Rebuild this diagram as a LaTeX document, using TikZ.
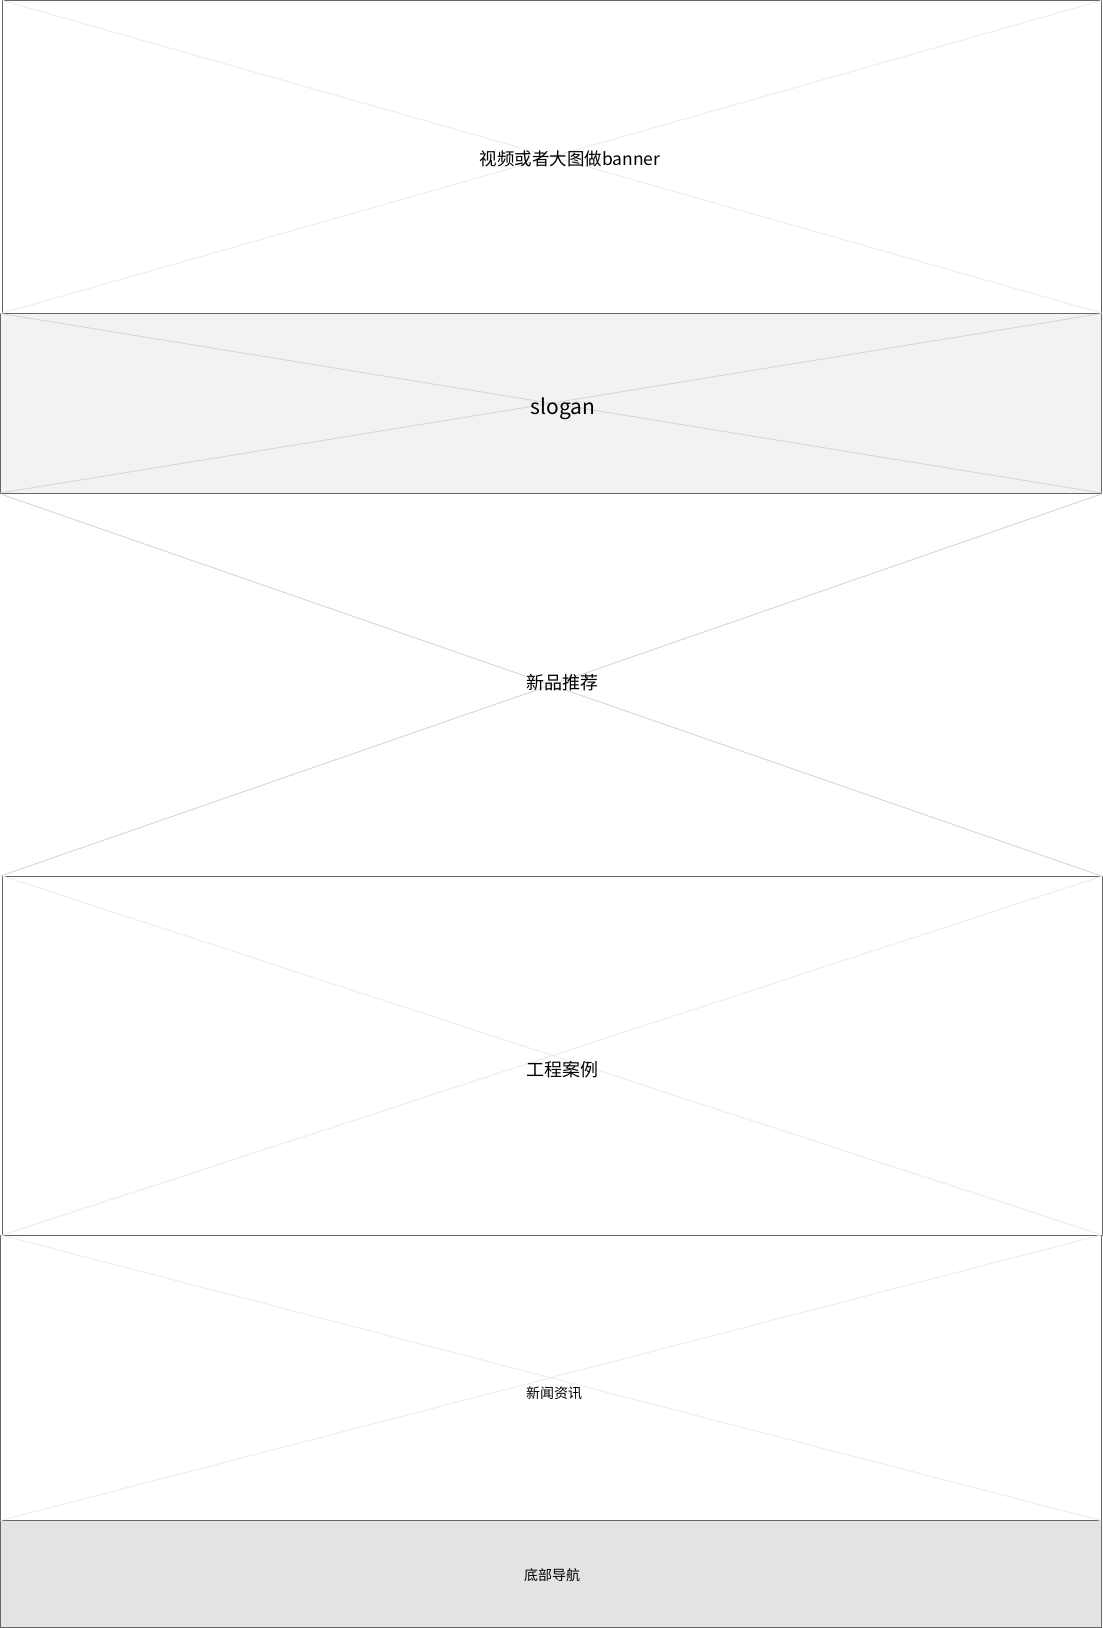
\documentclass[tikz,border=0pt]{standalone}
\usepackage{fontspec}
\setmainfont{Noto Sans CJK SC}
\usetikzlibrary{positioning}
\definecolor{frame}{HTML}{666666}
\definecolor{lightx}{HTML}{EBEBEB}
\definecolor{darkx}{HTML}{D6D6D6}
\definecolor{slogfill}{HTML}{F2F2F2}
\definecolor{footfill}{HTML}{E3E3E3}
\tikzset{
    x=1pt, y=-1pt, % one unit is one pixel of the page
    every node/.style={inner sep=0pt, outer sep=0pt}, % boxes sit exactly where they are placed
    block/.style={draw=frame, line width=1pt, anchor=north west}, % a page section
    cross/.style={line width=0.9pt, draw=lightx}, % the placeholder cross
    caption/.style={text=black, font=\fontsize{18}{22}\selectfont}, % section title
}
\begin{document}
\begin{tikzpicture}
    \useasboundingbox (0,0) rectangle (1103,1628);
    \node[block, minimum width=1099pt, minimum height=312.5pt] (banner) at (2.5,0.5) {};
    \node[block, fill=slogfill, minimum width=1101pt, minimum height=179.5pt] (slogan) at (0.5,313.5) {};
    \node[anchor=north west, minimum width=1101pt, minimum height=382pt] (product) at (0.5,494) {};
    \node[block, minimum width=1100pt, minimum height=359pt] (project) at (2.5,876) {};
    \node[block, minimum width=1100.5pt, minimum height=285.5pt] (news) at (0.5,1235) {};
    \node[block, fill=footfill, minimum width=1100.5pt, minimum height=106.5pt] (footer) at (0.5,1520.5) {};
    \draw[cross] (banner.north west) -- (banner.south east)
        (banner.south west) -- (banner.north east);
    \draw[cross, draw=darkx] (slogan.north west) -- (slogan.south east)
        (slogan.south west) -- (slogan.north east);
    \draw[cross, draw=darkx] (product.north west) -- (product.south east)
        (product.south west) -- (product.north east);
    \draw[cross] (project.north west) -- (project.south east)
        (project.south west) -- (project.north east);
    \draw[cross] (news.north west) -- (news.south east)
        (news.south west) -- (news.north east);
    \node[caption, font=\fontsize{17.5}{21}\selectfont] (bannertext) at (570,159) {视频或者大图做banner};
    \node[caption, font=\fontsize{21}{25}\selectfont] (slogantext) at (563,409) {slogan};
    \node[caption] (producttext) at (562,683) {新品推荐};
    \node[caption] (projecttext) at (562,1070) {工程案例};
    \node[caption, font=\fontsize{14}{17}\selectfont] (newstext) at (554,1393) {新闻资讯};
    \node[caption, font=\fontsize{14}{17}\selectfont] (footertext) at (552,1575) {底部导航};
\end{tikzpicture}
\end{document}
